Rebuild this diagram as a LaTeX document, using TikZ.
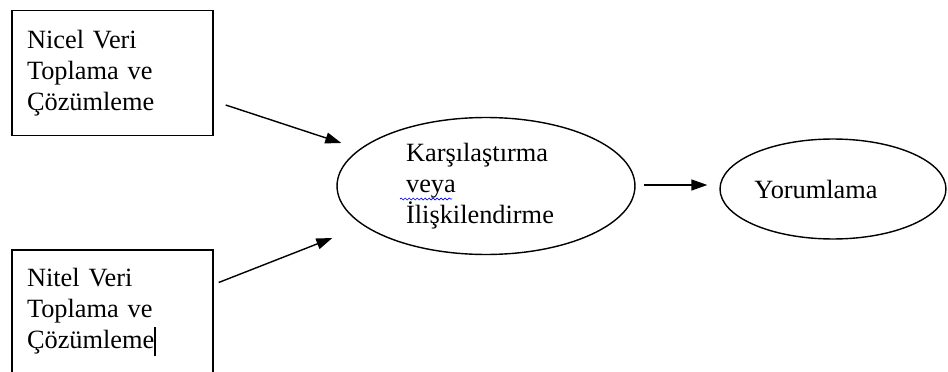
\documentclass[tikz,border=0pt]{standalone}
\usepackage{fontspec}
\setmainfont{Liberation Serif}
\usetikzlibrary{arrows.meta,calc,positioning,shapes.geometric,decorations.pathmorphing}

\begin{document}
\begin{tikzpicture}[x=0.02cm, y=-0.02cm, font=\fontsize{15}{17.5}\selectfont,
    kutu/.style={draw, line width=0.8pt, text width=3.42cm, inner xsep=0.3cm,
        inner ysep=0pt, minimum height=2.5cm, align=left},
    elips/.style={draw, ellipse, line width=0.8pt, inner sep=0pt, align=left},
    ok/.style={line width=0.8pt, -{Triangle[length=0.32cm, width=0.22cm]}},
    dalga/.style={blue, line width=0.4pt, decorate,
        decoration={snake, amplitude=0.02cm, segment length=0.08cm}}]
    \clip (0,0) rectangle (948,372);

    \node[kutu] (nicel) at (112.5,73) {Nicel Veri\\Toplama ve\\Çözümleme};
    \node[kutu] (nitel) at (112.5,312.5) {Nitel Veri\\Toplama ve\\Çözümleme\rule[-0.3em]{0.8pt}{1.1em}};
    \node[elips, minimum width=5.96cm, minimum height=2.74cm] (karsi) at (486,186)
        {Karşılaştırma\\veya\\İlişkilendirme\hspace*{0.24cm}};
    \node[elips, minimum width=4.52cm, minimum height=2cm] (yorum) at (833,189)
        {Yorumlama\hspace*{0.68cm}};

    % spell-check line under "veya"
    \draw[dalga] ($(karsi.center)+(-86,13)$) -- ($(karsi.center)+(-34,13)$);

    \draw[ok] ($(nicel.east)+(12,32)$) -- ($(karsi.west)+(5,-43)$);
    \draw[ok] ($(nitel.east)+(5,-30)$) -- ($(karsi.west)+(-4,52)$);
    \draw[ok] ($(karsi.east)+(8,-1)$) -- ($(yorum.west)+(-12,-4)$);
\end{tikzpicture}
\end{document}
